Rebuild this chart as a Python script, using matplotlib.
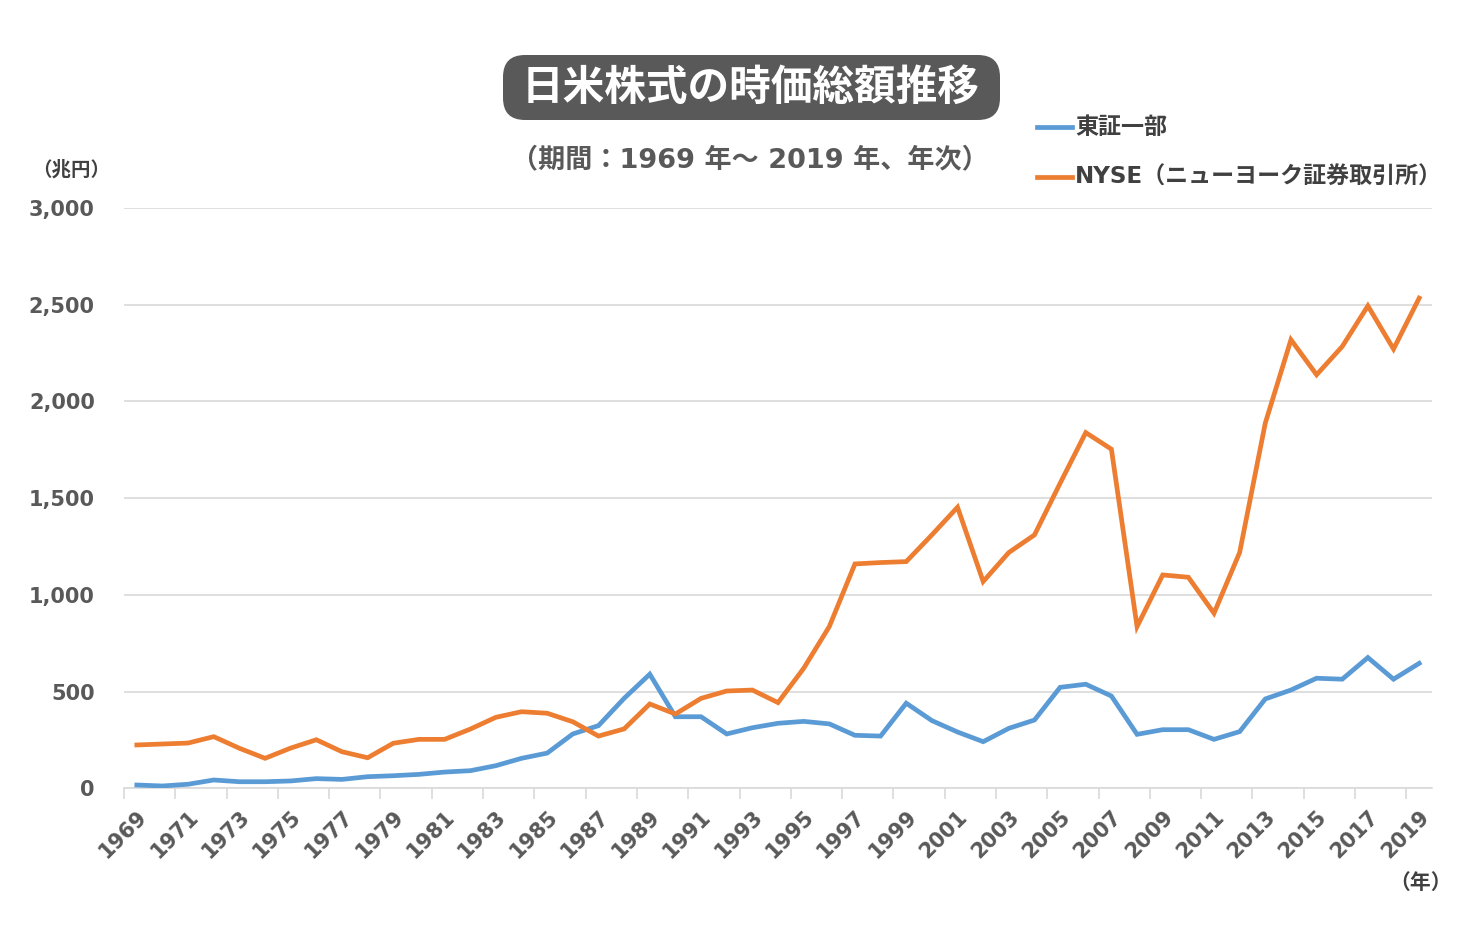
import numpy as np
import matplotlib
matplotlib.use("Agg")
import matplotlib.pyplot as plt
from matplotlib.lines import Line2D
from matplotlib.patches import FancyBboxPatch
from matplotlib.transforms import IdentityTransform

# 日米株式の時価総額（兆円）
years = list(range(1969, 2020))
tse = [17, 12, 21, 43, 34, 34, 38, 50, 46, 60, 65, 72, 84, 91, 117, 155, 182,
       281, 324, 465, 590, 370, 370, 281, 313, 336, 346, 333, 274, 270, 440, 350, 291,
       241, 310, 353, 522, 538, 477, 279, 303, 303, 253, 293, 462, 508, 569, 564, 676, 564, 646]
nyse = [224, 229, 234, 267, 207, 155, 208, 251, 189, 158, 233, 253, 253, 306, 367, 396, 388,
        344, 270, 307, 436, 384, 465, 503, 508, 443, 620, 836,
        1160, 1167, 1172, 1310, 1453, 1069, 1219, 1310, 1577, 1839, 1753, 836,
        1103, 1091, 905, 1219, 1888, 2319, 2138, 2284, 2494, 2271, 2534]
series_names = ['東証一部', 'NYSE（ニューヨーク証券取引所）']
yticks = [0, 500, 1000, 1500, 2000, 2500, 3000]

blue = '#5B9BD5'
orange = '#ED7D31'
grid_c = '#D9D9D9'
txt_c = '#595959'
dark_c = '#404040'
jp = ['Noto Sans CJK JP', 'DejaVu Sans']
num_jp = ['DejaVu Sans', 'Noto Sans CJK JP']

W, H = 1480, 940
fig = plt.figure(figsize=(W / 100, H / 100), dpi=100)
ax = fig.add_axes([124 / W, 1 - 788.3 / H, (1432 - 124) / W, (788.3 - 208) / H])

ax.plot(years, tse, color=blue, lw=3.4, solid_joinstyle='miter', zorder=3)
ax.plot(years, nyse, color=orange, lw=3.4, solid_joinstyle='miter', zorder=3)

ax.set_xlim(1968.5, 2019.5)
ax.set_ylim(0, 3000)
ax.set_yticks(yticks)
ax.set_yticklabels([f'{v:,}' for v in yticks], fontsize=15, fontweight='bold',
                   color=txt_c, family='DejaVu Sans')
ax.tick_params(axis='y', length=0, pad=21)
ax.yaxis.grid(True, color=grid_c, lw=1.2)
ax.set_axisbelow(True)

ax.set_xticks(years[::2])
ax.set_xticklabels([str(y) for y in years[::2]], rotation=45, ha='right', va='top',
                   rotation_mode='anchor', fontsize=15, fontweight='bold',
                   color=txt_c, family='DejaVu Sans')
ax.tick_params(axis='x', length=0, pad=13)
ax.set_xticks(np.arange(1968.5, 2019.6, 2), minor=True)
ax.tick_params(axis='x', which='minor', length=8, color=grid_c, width=1.2)

for s in ['left', 'right', 'top']:
    ax.spines[s].set_visible(False)
ax.spines['bottom'].set_color(grid_c)
ax.spines['bottom'].set_linewidth(1.2)

# タイトル（角丸の枠）
box = FancyBboxPatch((503, H - 120), 497, 65, boxstyle='round,pad=0,rounding_size=22',
                     fc='#595959', ec='none', transform=IdentityTransform())
fig.add_artist(box)
fig.text(751 / W, 1 - 88 / H, '日米株式の時価総額推移', ha='center', va='center',
         fontsize=30, fontweight='bold', color='white', family=jp)
fig.text(750 / W, 1 - 160 / H, '（期間：1969 年～ 2019 年、年次）', ha='center', va='center',
         fontsize=19.5, fontweight='bold', color=txt_c, family=num_jp)
fig.text(71 / W, 1 - 170 / H, '（兆円）', ha='center', va='center',
         fontsize=14, fontweight='bold', color=dark_c, family=jp)
fig.text(1421 / W, 1 - 882 / H, '（年）', ha='center', va='center',
         fontsize=15, fontweight='bold', color=dark_c, family=jp)

# 凡例
for name, c, ypx in zip(series_names, [blue, orange], [127, 177]):
    y = 1 - ypx / H
    fig.add_artist(Line2D([1037 / W, 1072 / W], [y, y], color=c, lw=3.4,
                          transform=fig.transFigure))
    fig.text(1075 / W, y, name, ha='left', va='center', fontsize=16.6,
             fontweight='bold', color=dark_c, family=num_jp)

fig.savefig('out.png', dpi=100, facecolor='white')
